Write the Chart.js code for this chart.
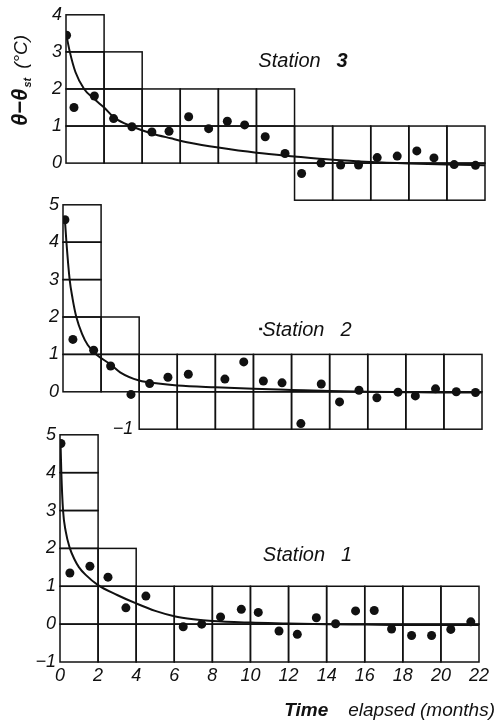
<!DOCTYPE html>
<html>
<head>
<meta charset="utf-8">
<script src="https://cdn.jsdelivr.net/npm/chart.js@4.4.1/dist/chart.umd.min.js"></script>
<style>
html,body{margin:0;padding:0;background:#fff;}
#wrap{position:relative;width:496px;height:722px;overflow:hidden;background:#fff;}
canvas{position:absolute;left:0;}
</style>
</head>
<body>
<div id="wrap">
<canvas id="c3" width="496" height="215" style="top:0px;width:496px;height:215px"></canvas>
<canvas id="c2" width="496" height="254" style="top:190px;width:496px;height:254px"></canvas>
<canvas id="c1" width="496" height="302" style="top:420px;width:496px;height:302px"></canvas>
</div>
<script>
// ---------- DATA ----------
// Station 3
const st3PointMonths = [0.03,0.42,1.49,2.5,3.46,4.51,5.41,6.44,7.49,8.47,9.38,10.46,11.5,12.37,13.39,14.42,15.36,16.34,17.39,18.42,19.32,20.38,21.5];
const st3PointValues = [3.45,1.50,1.81,1.20,0.98,0.84,0.86,1.25,0.93,1.13,1.03,0.71,0.26,-0.28,0.0,-0.05,-0.05,0.15,0.19,0.33,0.14,-0.04,-0.06];
const st3CurveMonths = [0.02,0.2,0.5,0.95,1.5,2.0,2.55,3.5,4.5,5.5,6.5,8,10,12,14,16,18,20,22];
const st3CurveValues = [3.45,3.0,2.45,2.0,1.72,1.5,1.22,0.98,0.8,0.67,0.55,0.42,0.28,0.18,0.09,0.03,-0.01,-0.04,-0.06];
const st3ColumnTop = [4,3,2,2,2,2,1,1,1,1,1];
const st3ColumnBottom = [0,0,0,0,0,0,-1,-1,-1,-1,-1];
const st3TickLabels = ['0','1','2','3','4'];

// Station 2
const st2PointMonths = [0.1,0.52,1.61,2.5,3.57,4.55,5.51,6.58,8.5,9.49,10.52,11.5,12.49,13.56,14.52,15.54,16.48,17.59,18.5,19.56,20.65,21.66];
const st2PointValues = [4.6,1.40,1.11,0.69,-0.07,0.22,0.39,0.47,0.34,0.80,0.29,0.24,-0.85,0.21,-0.27,0.04,-0.16,-0.01,-0.11,0.08,0.0,-0.02];
const st2CurveMonths = [0.1,0.18,0.35,0.5,0.7,1.0,1.3,1.75,2.5,3.0,4.0,5,6,8,10,12,14,16,18,20,22];
const st2CurveValues = [4.6,4.0,3.0,2.5,2.0,1.55,1.25,1.0,0.73,0.52,0.3,0.22,0.17,0.12,0.08,0.05,0.02,0.0,-0.01,-0.02,-0.02];
const st2ColumnTop = [5,2,1,1,1,1,1,1,1,1,1];
const st2ColumnBottom = [0,0,-1,-1,-1,-1,-1,-1,-1,-1,-1];
const st2TickLabels = ['0','1','2','3','4','5'];

// Station 1
const st1PointMonths = [0.05,0.52,1.57,2.52,3.46,4.51,6.47,7.44,8.43,9.52,10.41,11.5,12.46,13.46,14.47,15.52,16.5,17.41,18.46,19.51,20.52,21.57];
const st1PointValues = [4.77,1.35,1.53,1.24,0.43,0.74,-0.07,0.0,0.19,0.39,0.31,-0.18,-0.27,0.17,0.01,0.35,0.36,-0.13,-0.30,-0.30,-0.14,0.06];
const st1CurveMonths = [0.03,0.07,0.16,0.3,0.52,0.75,1.0,1.35,2.0,3.0,4.03,5,6,7,8,10,12,14,16,18,22];
const st1CurveValues = [4.77,4.0,3.0,2.45,2.0,1.72,1.5,1.3,1.03,0.77,0.54,0.35,0.21,0.13,0.08,0.04,0.02,0.0,-0.01,-0.02,-0.02];
const st1ColumnTop = [5,2,1,1,1,1,1,1,1,1,1];
const st1ColumnBottom = [-1,-1,-1,-1,-1,-1,-1,-1,-1,-1,-1];
const st1TickLabels = ['−1','0','1','2','3','4','5'];

const monthTickStep = 2;
const stationNames = ['Station', 'Station', 'Station'];
const stationNumbers = ['3', '2', '1'];
const xAxisTitleBold = 'Time';
const xAxisTitleRest = 'elapsed (months)';

// ---------- HELPERS ----------
const INK = '#111';
const TICK_FONT = {family: 'Liberation Sans', size: 18, style: 'italic'};

function pairs(xs, ys) { return xs.map((x, i) => ({x: x, y: ys[i]})); }

const cellGrid = {
  id: 'cellGrid',
  beforeDatasetsDraw(chart, args, opts) {
    const ctx = chart.ctx, xs = chart.scales.x, ys = chart.scales.y;
    ctx.save();
    ctx.strokeStyle = INK;
    ctx.lineWidth = 1.5;
    opts.top.forEach((top, i) => {
      const bottom = opts.bottom[i];
      const xl = xs.getPixelForValue(i * monthTickStep);
      const xr = xs.getPixelForValue((i + 1) * monthTickStep);
      for (let v = bottom; v < top; v++) {
        const yb = ys.getPixelForValue(v), yt = ys.getPixelForValue(v + 1);
        ctx.strokeRect(xl, yt, xr - xl, yb - yt);
      }
    });
    ctx.restore();
  }
};

const textLayer = {
  id: 'textLayer',
  afterDraw(chart, args, opts) {
    if (opts.draw) opts.draw(chart, chart.ctx, chart.scales.x, chart.scales.y);
  }
};

function makePanel(id, o) {
  return new Chart(document.getElementById(id), {
    type: 'scatter',
    data: {
      datasets: [
        {data: pairs(o.curveX, o.curveY), showLine: true, borderColor: INK, borderWidth: 2,
         pointRadius: 0, cubicInterpolationMode: 'monotone', fill: false, order: 2},
        {data: pairs(o.ptX, o.ptY), backgroundColor: INK, borderWidth: 0, pointRadius: 4.5,
         pointHoverRadius: 4.5, order: 1}
      ]
    },
    options: {
      responsive: false,
      animation: false,
      events: [],
      layout: {padding: {left: 0, right: o.padRight, top: o.padTop, bottom: o.padBottom}},
      plugins: {
        legend: {display: false},
        tooltip: {enabled: false},
        cellGrid: {top: o.colTop, bottom: o.colBottom},
        textLayer: {draw: o.draw}
      },
      scales: {
        x: {
          type: 'linear', min: 0, max: 22,
          display: o.showX,
          grid: {display: false, drawTicks: false, tickLength: 0}, border: {display: false},
          ticks: {stepSize: monthTickStep, color: INK, padding: 3,
                  font: {family: 'Liberation Sans', size: 18, style: 'italic'}, maxRotation: 0},
          afterFit: s => { s.height = o.xHeight || s.height; }
        },
        y: {
          type: 'linear', min: -1, max: o.yMax,
          grid: {display: false, drawTicks: false, tickLength: 0}, border: {display: false},
          ticks: {stepSize: 1, color: INK, padding: 4, font: TICK_FONT,
                  callback: v => {
                    const lab = v < 0 ? '−' + Math.abs(v) : String(v);
                    return o.tickLabels.includes(lab) ? lab : '';
                  }},
          afterFit: s => { s.width = o.left; }
        }
      }
    },
    plugins: [cellGrid, textLayer]
  });
}

function stationLabel(ctx, xs, ys, xv, yv, name, num, boldNum, dot) {
  const x = xs.getPixelForValue(xv), y = ys.getPixelForValue(yv);
  ctx.save();
  ctx.fillStyle = INK;
  ctx.textBaseline = 'alphabetic';
  ctx.textAlign = 'left';
  ctx.font = 'italic 20px "Liberation Sans"';
  let cx = x;
  if (dot) { ctx.fillRect(cx, y - 8, 3, 2.5); cx += 3; }
  ctx.fillText(name, cx, y);
  cx += ctx.measureText(name).width + 16;
  ctx.font = (boldNum ? 'italic bold ' : 'italic ') + '20px "Liberation Sans"';
  ctx.fillText(num, cx, y);
  ctx.restore();
}

// ---------- PANELS ----------
makePanel('c3', {
  ptX: st3PointMonths, ptY: st3PointValues, curveX: st3CurveMonths, curveY: st3CurveValues,
  colTop: st3ColumnTop, colBottom: st3ColumnBottom, tickLabels: st3TickLabels,
  yMax: 4, left: 66, padRight: 11, padTop: 13, padBottom: 11, showX: false,
  draw: (chart, ctx, xs, ys) => {
    stationLabel(ctx, xs, ys, 10.1, 2.6, stationNames[0], stationNumbers[0], true, false);
    // y axis title
    ctx.save();
    ctx.fillStyle = INK;
    ctx.translate(27, 126);
    ctx.rotate(-Math.PI / 2);
    ctx.textBaseline = 'alphabetic';
    ctx.textAlign = 'left';
    ctx.font = 'italic bold 22px "Liberation Sans"';
    ctx.fillText('θ−θ', 0, 0);
    let w = ctx.measureText('θ−θ').width;
    ctx.font = 'italic bold 11px "Liberation Sans"';
    ctx.fillText('st', w + 1, 4);
    w += ctx.measureText('st').width + 10;
    ctx.font = 'italic 19px "Liberation Sans"';
    ctx.fillText('(°C)', w, 0);
    ctx.restore();
  }
});

makePanel('c2', {
  ptX: st2PointMonths, ptY: st2PointValues, curveX: st2CurveMonths, curveY: st2CurveValues,
  colTop: st2ColumnTop, colBottom: st2ColumnBottom, tickLabels: st2TickLabels,
  yMax: 5, left: 63, padRight: 14, padTop: 14, padBottom: 12, showX: false,
  draw: (chart, ctx, xs, ys) => {
    stationLabel(ctx, xs, ys, 10.3, 1.5, stationNames[1], stationNumbers[1], false, true);
    ctx.save();
    ctx.fillStyle = INK;
    ctx.font = 'italic 18px "Liberation Sans"';
    ctx.textAlign = 'right';
    ctx.textBaseline = 'middle';
    ctx.fillText('−1', xs.getPixelForValue(4) - 6, ys.getPixelForValue(-1));
    ctx.restore();
  }
});

makePanel('c1', {
  ptX: st1PointMonths, ptY: st1PointValues, curveX: st1CurveMonths, curveY: st1CurveValues,
  colTop: st1ColumnTop, colBottom: st1ColumnBottom, tickLabels: st1TickLabels,
  yMax: 5, left: 60, padRight: 17, padTop: 13, padBottom: 0, showX: true, xHeight: 60,
  draw: (chart, ctx, xs, ys) => {
    stationLabel(ctx, xs, ys, 10.65, 1.68, stationNames[2], stationNumbers[2], false, false);
    ctx.save();
    ctx.fillStyle = INK;
    ctx.textBaseline = 'alphabetic';
    ctx.textAlign = 'right';
    ctx.font = 'italic 19px "Liberation Sans"';
    const restW = ctx.measureText(xAxisTitleRest).width;
    ctx.fillText(xAxisTitleRest, 495, 296);
    ctx.font = 'italic bold 19px "Liberation Sans"';
    ctx.fillText(xAxisTitleBold, 495 - restW - 20, 296);
    ctx.restore();
  }
});
</script>
</body>
</html>
